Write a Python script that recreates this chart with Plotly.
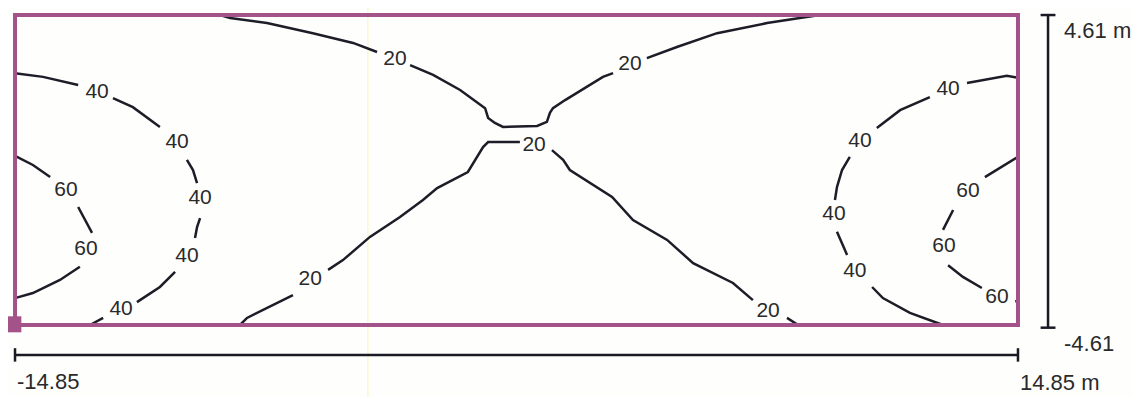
import plotly.graph_objects as go

# room extents (m)
room_x = [-14.85, 14.85]
room_y = [-4.61, 4.61]

# isolines (m), None = gap where the value label sits
c20_top_x = [-8.78, -8.48, -7.39, -6.03, -4.84, -4.13, None,
             -3.15, -2.47, -1.67, -0.99, -0.93, -0.84, -0.64, -0.40, 0.61, 0.90, 0.99, 1.08, 1.44, 2.56, 2.86, None,
             3.86, 4.75, 5.94, 7.42, 8.39, 8.99]
c20_top_y = [4.61, 4.52, 4.37, 4.07, 3.78, 3.51, None,
             3.12, 2.83, 2.38, 1.87, 1.84, 1.55, 1.40, 1.28, 1.31, 1.43, 1.70, 1.84, 2.08, 2.77, 2.88, None,
             3.33, 3.66, 4.07, 4.37, 4.52, 4.61]

c20_low_x = [-8.19, -7.98, -6.62, None,
             -5.58, -5.14, -4.34, -3.45, -2.77, -2.35, -1.44, -1.23, -0.99, -0.84, 0.10, None,
             1.05, 1.38, 1.58, 2.27, 2.83, 3.45, 4.46, 5.23, 5.64, 6.41, 7.00, None,
             8.01, 8.34]
c20_low_y = [-4.61, -4.40, -3.72, None,
             -2.97, -2.68, -1.99, -1.40, -0.89, -0.54, -0.06, 0.30, 0.68, 0.83, 0.83, None,
             0.59, 0.30, 0.00, -0.45, -0.80, -1.49, -2.08, -2.77, -2.97, -3.36, -3.87, None,
             -4.40, -4.61]

c40_left_x = [-14.85, -14.02, -12.98, None, -11.95, -11.36, -10.56, None, -9.76, -9.58, -9.46, None,
              -9.37, -9.46, -9.52, None, -10.11, -10.56, -11.15, -11.24, None, -12.24, -12.63]
c40_left_y = [2.88, 2.77, 2.53, None, 2.14, 1.87, 1.28, None, 0.30, 0.00, -0.39, None,
              -1.43, -1.70, -2.02, None, -3.03, -3.48, -3.87, -3.93, None, -4.40, -4.61]

c60_left_x = [-14.85, -14.32, -13.81, None, -12.98, -12.57, None, -12.93, -13.52, -14.32, -14.85]
c60_left_y = [0.42, 0.15, -0.21, None, -1.10, -1.87, None, -2.88, -3.27, -3.66, -3.81]

c40_right_x = [14.85, 14.52, 13.34, None, 12.24, 11.36, 10.67, None, 9.87, 9.64, 9.49, 9.43, None,
               9.49, 9.79, None, 10.53, 10.85, 11.65, 12.63]
c40_right_y = [2.74, 2.80, 2.59, None, 2.17, 1.78, 1.25, None, 0.39, 0.00, -0.51, -0.89, None,
               -1.84, -2.53, None, -3.48, -3.81, -4.25, -4.61]

c60_right_x = [14.85, 13.87, None, 12.93, 12.63, None, 12.78, 13.22, 13.78, None, 14.79, 14.85]
c60_right_y = [0.39, -0.21, None, -1.19, -1.78, None, -2.83, -3.18, -3.51, None, -3.87, -4.01]

# contour value labels
label_x = [-3.60, 3.36, -6.11, 0.52, 7.45,
           -12.42, -10.05, -9.37, -9.76, -11.71,
           -13.34, -12.75,
           12.78, 10.17, 9.40, 10.02,
           13.37, 12.66, 14.23]
label_y = [3.27, 3.12, -3.27, 0.71, -4.22,
           2.29, 0.80, -0.86, -2.59, -4.16,
           -0.62, -2.38,
           2.38, 0.83, -1.34, -3.03,
           -0.65, -2.29, -3.81]
label_text = ["20"] * 5 + ["40"] * 5 + ["60"] * 2 + ["40"] * 4 + ["60"] * 3

FONT = "Liberation Sans, Arial, sans-serif"
LINE = "#1d1d28"
BORDER = "#a3538a"
INK = "#2a2a2a"

fig = go.Figure()

for xs, ys in [(c20_top_x, c20_top_y), (c20_low_x, c20_low_y),
               (c40_left_x, c40_left_y), (c60_left_x, c60_left_y),
               (c40_right_x, c40_right_y), (c60_right_x, c60_right_y)]:
    fig.add_trace(go.Scatter(x=xs, y=ys, mode="lines", connectgaps=False,
                             line=dict(color=LINE, width=2.5), hoverinfo="skip"))

fig.add_trace(go.Scatter(x=label_x, y=label_y, mode="text", text=label_text,
                         textfont=dict(family=FONT, size=21, color=INK), hoverinfo="skip"))

# faint scan line
fig.add_shape(type="line", xref="x", yref="paper", x0=-4.40, x1=-4.40, y0=0, y1=1,
              line=dict(color="rgba(245,235,140,0.55)", width=1), layer="below")

# room outline
fig.add_shape(type="rect", x0=room_x[0], x1=room_x[1], y0=room_y[0], y1=room_y[1],
              line=dict(color=BORDER, width=4))

# origin marker
fig.add_trace(go.Scatter(x=[room_x[0] - 0.05], y=[room_y[0] + 0.02], mode="markers",
                         marker=dict(symbol="square", size=16, color=BORDER), hoverinfo="skip"))

# dimension lines
dim_y = -5.50
dim_x = 15.74
for x0, y0, x1, y1 in [
    (room_x[0], dim_y, room_x[1], dim_y),
    (room_x[0], dim_y - 0.2, room_x[0], dim_y + 0.2),
    (room_x[1], dim_y - 0.2, room_x[1], dim_y + 0.2),
    (dim_x, room_y[0] - 0.08, dim_x, room_y[1]),
    (dim_x - 0.22, room_y[1], dim_x + 0.22, room_y[1]),
    (dim_x - 0.22, room_y[0] - 0.08, dim_x + 0.22, room_y[0] - 0.08),
]:
    fig.add_shape(type="line", x0=x0, y0=y0, x1=x1, y1=y1, line=dict(color="#1a1a24", width=2.5))

for x, y, t in [(room_x[0], -6.30, "-14.85"), (room_x[1], -6.33, "14.85 m"),
                (16.15, 4.16, "4.61 m"), (16.15, -5.15, "-4.61")]:
    fig.add_annotation(x=x, y=y, text=t, showarrow=False, xanchor="left", yanchor="middle",
                       font=dict(family=FONT, size=22, color=INK))

# page body adds an 8px offset, so the figure is 8px smaller and the ranges start there
fig.update_layout(
    width=1133, height=389,
    margin=dict(l=0, r=0, t=0, b=0),
    paper_bgcolor="#fefefd", plot_bgcolor="#fefefd",
    showlegend=False,
    xaxis=dict(range=[-15.058, 18.493], visible=False, fixedrange=True),
    yaxis=dict(range=[-6.752, 4.819], visible=False, fixedrange=True),
)

fig.write_html("out.html")
